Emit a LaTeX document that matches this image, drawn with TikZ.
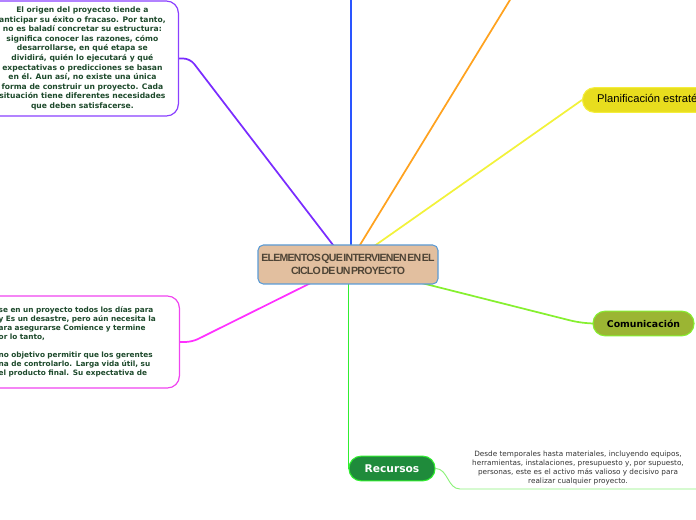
\documentclass[tikz,border=0pt]{standalone}
\usepackage{fontspec}
\setmainfont{DejaVu Sans}
\newfontfamily\titulofont[WordSpace=0.3,LetterSpace=-7]{Liberation Sans}
\newfontfamily\planfont{Liberation Sans}
\usetikzlibrary{positioning,calc,backgrounds}

\definecolor{morado}{HTML}{7A2CFF}
\definecolor{moradoborde}{HTML}{8A40FF}
\definecolor{azul}{HTML}{2A55FF}
\definecolor{naranja}{HTML}{FFA21F}
\definecolor{amarillo}{HTML}{E8DD1E}
\definecolor{amarilloborde}{HTML}{F4EE3C}
\definecolor{amarillorama}{HTML}{F2F23A}
\definecolor{verdeclaro}{HTML}{86F030}
\definecolor{oliva}{HTML}{9BB533}
\definecolor{verdebrillo}{HTML}{30EE30}
\definecolor{verdefondo}{HTML}{1F8B3B}
\definecolor{verdepal}{HTML}{8CF27A}
\definecolor{magentarama}{HTML}{FF30FF}
\definecolor{magentaborde}{HTML}{F044F0}
\definecolor{verdetexto}{HTML}{1E4A2C}
\definecolor{gristexto}{HTML}{333333}
\definecolor{tostado}{HTML}{E2BF9F}
\definecolor{azulborde}{HTML}{5B9BD5}
\definecolor{marron}{HTML}{4E4436}

\begin{document}
\begin{tikzpicture}[x=0.75pt, y=-0.75pt,
		rama/.style={line width=1.3pt, line cap=round, line join=round},
		caja/.style={draw, fill=white, rounded corners=9pt, line width=0.9pt},
		textocaja/.style={font=\fontsize{5.7}{7.2}\selectfont\bfseries, text=verdetexto},
		pildora/.style={rounded corners=9pt, line width=0.8pt, minimum height=18.5pt, inner ysep=0pt},
	]
	\useasboundingbox (0,0) rectangle (696,520);
	
	%% ── nodo central ───────────────────────────────────────
	\node[draw=azulborde, fill=tostado, rounded corners=4pt, line width=0.8pt, inner xsep=2pt,
		minimum width=135pt, minimum height=29.25pt, align=center, text=marron,
		font={\titulofont\fontsize{7.9}{9.75}\selectfont\bfseries}]
		(centro) at (348,264.5) {ELEMENTOS QUE INTERVIENEN EN EL\\CICLO DE UN PROYECTO};
	
	%% ── ramas de la izquierda ──────────────────────────────
	\node[caja, draw=moradoborde, anchor=east, minimum width=144pt, minimum height=86.25pt,
		align=center, textocaja] (origen) at (179,58.5)
		{El origen del proyecto tiende a\\
		anticipar su éxito o fracaso. Por tanto,\\
		no es baladí concretar su estructura:\\
		significa conocer las razones, cómo\\
		desarrollarse, en qué etapa se\\
		dividirá, quién lo ejecutará y qué\\
		expectativas o predicciones se basan\\
		en él. Aun así, no existe una única\\
		forma de construir un proyecto. Cada\\
		situación tiene diferentes necesidades\\
		que deben satisfacerse.};
	\node[caja, draw=magentaborde, anchor=east, minimum height=69pt, inner xsep=14.5pt,
		text width=121pt, align=left, textocaja, font=\fontsize{5.5}{6.75}\selectfont\bfseries] (gestion) at (180,342)
		{se en un proyecto todos los días para\\
		y Es un desastre, pero aún necesita la\\
		ara asegurarse Comience y termine\\
		or lo tanto,\\[6.75pt]
		no objetivo permitir que los gerentes\\
		na de controlarlo. Larga vida útil, su\\
		el producto final. Su expectativa de};
	
	%% ── ramas de la derecha ────────────────────────────────
	\node[pildora, draw=amarilloborde, fill=amarillo, anchor=west, inner xsep=11pt,
		font={\planfont\fontsize{8.4}{9}\selectfont}] (planif) at (582,100) {Planificación estratégica};
	\node[pildora, draw=verdeclaro, fill=oliva, minimum width=75.75pt,
		font=\fontsize{7}{8}\selectfont\bfseries] (comunic) at (643.5,323.5) {Comunicación};
	\node[pildora, draw=verdebrillo, fill=verdefondo, text=white, minimum width=64.5pt,
		font=\fontsize{8}{9}\selectfont\bfseries] (recursos) at (392,468.5) {Recursos};
	\node[align=center, text=gristexto, font=\fontsize{5.45}{6.75}\selectfont] (recdesc) at (578,467.5)
		{Desde temporales hasta materiales, incluyendo equipos,\\
		herramientas, instalaciones, presupuesto y, por supuesto,\\
		personas, este es el activo más valioso y decisivo para\\
		realizar cualquier proyecto.};
	
	\coordinate (azulfin) at (351,-5);
	\coordinate (naranjafin) at (513,-5);
	\coordinate (recbase) at (460,489);
	\coordinate (recfin) at (700,489);
	
	%% ── conectores ─────────────────────────────────────────
	\begin{scope}[on background layer]
		\draw[rama, morado, rounded corners=5pt] (centro.center) -- ($(origen.east)+(11,0)$) -- (origen.east);
		\draw[rama, azul] (azulfin |- centro.center) -- (azulfin);
		\draw[rama, naranja] (centro.center) -- (naranjafin);
		\draw[rama, amarillorama] (centro.center) -- (planif.west);
		\draw[rama, verdeclaro, rounded corners=6pt] (centro.center) -- ($(comunic.west)+(-14,-1)$) -- (comunic.west);
		\draw[rama, verdebrillo] (recursos.west |- centro.center) -- (recursos.west);
		\draw[rama, magentarama, rounded corners=5pt] (centro.center) -- ($(gestion.east)+(12,0)$) -- (gestion.east);
	\end{scope}
	\draw[verdepal, line width=0.7pt] (recursos.east) to[out=0, in=180] (recbase) -- (recfin);
	
\end{tikzpicture}
\end{document}
